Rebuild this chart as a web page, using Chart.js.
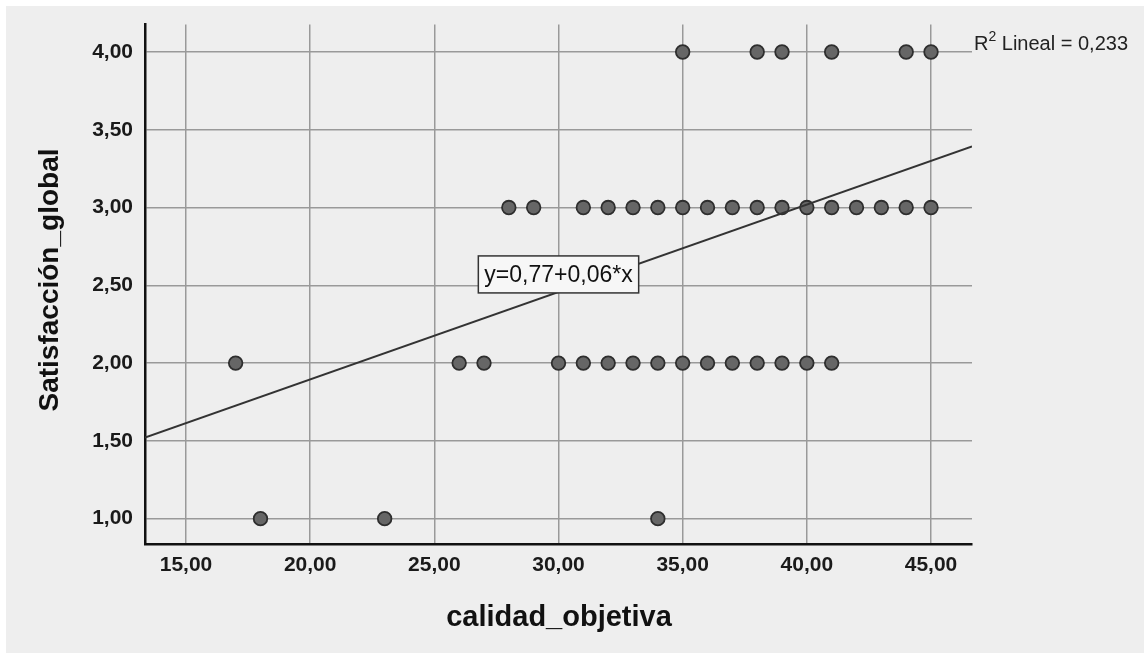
<!DOCTYPE html>
<html>
<head>
<meta charset="utf-8">
<script src="https://cdn.jsdelivr.net/npm/chart.js@4.4.1/dist/chart.umd.min.js"></script>
<style>
  body { margin: 0; background: #ffffff; }
  canvas { display: block; }
</style>
</head>
<body>
<canvas id="scatter" width="1144" height="653"></canvas>
<script>
// calidad_objetiva values observed at each level of Satisfacción_global
const calidadSat4 = [35, 38, 39, 41, 44, 45];
const calidadSat3 = [28, 29, 31, 32, 33, 34, 35, 36, 37, 38, 39, 40, 41, 42, 43, 44, 45];
const calidadSat2 = [17, 26, 27, 30, 31, 32, 33, 34, 35, 36, 37, 38, 39, 40, 41];
const calidadSat1 = [18, 23, 34];

const xTicks = [15, 20, 25, 30, 35, 40, 45];
const yTicks = [1, 1.5, 2, 2.5, 3, 3.5, 4];

// fitted line (SPSS shows y=0,77+0,06*x, R2 lineal = 0,233)
const intercept = 0.771;
const slope = 0.0562;
const r2 = 0.233;

const xMin = 13.35, xMax = 46.65;
const yMin = 0.837, yMax = 4.176;

const toPoints = (xs, y) => xs.map(x => ({ x: x, y: y }));
const points = [].concat(
    toPoints(calidadSat4, 4),
    toPoints(calidadSat3, 3),
    toPoints(calidadSat2, 2),
    toPoints(calidadSat1, 1)
);
const fitLine = [xMin, xMax].map(x => ({ x: x, y: intercept + slope * x }));

const fmt = v => v.toFixed(2).replace('.', ',');
const FONT = '"Liberation Sans", Arial, sans-serif';

const decorations = {
    id: 'decorations',
    beforeDraw(chart) {
        const c = chart.ctx;
        c.save();
        c.fillStyle = '#ffffff';
        c.fillRect(0, 0, chart.width, chart.height);
        c.fillStyle = '#eeeeee';
        c.fillRect(6, 6, chart.width - 6, chart.height - 6);
        c.restore();
    },
    afterDraw(chart) {
        const c = chart.ctx;
        const xs = chart.scales.x, ys = chart.scales.y;
        const area = chart.chartArea;
        c.save();

        // axis titles
        c.fillStyle = '#111';
        c.font = 'bold 29px ' + FONT;
        c.textAlign = 'center';
        c.textBaseline = 'middle';
        c.fillText('calidad_objetiva', 559, 618);
        c.font = 'bold 28px ' + FONT;
        c.save();
        c.translate(50, 280);
        c.rotate(-Math.PI / 2);
        c.fillText('Satisfacción_global', 0, 0);
        c.restore();

        // R2 label at end of the top gridline
        const yTop = ys.getPixelForValue(4);
        c.textAlign = 'left';
        c.textBaseline = 'alphabetic';
        c.fillStyle = '#222';
        c.font = '20px ' + FONT;
        const rx = area.right + 2;
        c.fillText('R', rx, yTop - 2);
        const rw = c.measureText('R').width;
        c.font = '14px ' + FONT;
        c.fillText('2', rx + rw, yTop - 11);
        const sw = c.measureText('2').width;
        c.font = '20px ' + FONT;
        c.fillText(' Lineal = ' + r2.toFixed(3).replace('.', ','), rx + rw + sw, yTop - 2);

        // equation box
        const ex = xs.getPixelForValue(30), ey = ys.getPixelForValue(2.57);
        const eq = 'y=' + fmt(0.77) + '+' + fmt(0.06) + '*x';
        c.font = '23px ' + FONT;
        const ew = c.measureText(eq).width + 12;
        const eh = 37;
        c.fillStyle = '#f7f7f7';
        c.fillRect(ex - ew / 2, ey - eh / 2, ew, eh);
        c.strokeStyle = '#333';
        c.lineWidth = 1.5;
        c.strokeRect(ex - ew / 2, ey - eh / 2, ew, eh);
        c.fillStyle = '#111';
        c.textAlign = 'center';
        c.textBaseline = 'middle';
        c.fillText(eq, ex, ey + 1);
        c.restore();
    }
};

new Chart(document.getElementById('scatter').getContext('2d'), {
    type: 'scatter',
    data: {
        datasets: [{
            type: 'line',
            label: 'Lineal',
            data: fitLine,
            borderColor: '#333333',
            borderWidth: 1.8,
            pointRadius: 0,
            fill: false,
            order: 0
        }, {
            label: 'Satisfacción_global',
            data: points,
            backgroundColor: '#666666',
            borderColor: '#2e2e2e',
            borderWidth: 1.8,
            pointRadius: 6.8,
            order: 1
        }]
    },
    options: {
        responsive: false,
        animation: false,
        layout: { padding: { left: 0, top: 12, right: 172, bottom: 0 } },
        plugins: {
            legend: { display: false },
            tooltip: { enabled: false }
        },
        scales: {
            x: {
                type: 'linear',
                min: xMin,
                max: xMax,
                afterBuildTicks: s => { s.ticks = xTicks.map(v => ({ value: v })); },
                afterFit: s => { s.height = 109; },
                grid: { color: '#999999', lineWidth: 1.5, drawTicks: false },
                border: { color: '#111', width: 2.5 },
                ticks: {
                    padding: 9,
                    color: '#1a1a1a',
                    font: { family: FONT, size: 21, weight: 'bold' },
                    callback: v => fmt(v)
                }
            },
            y: {
                type: 'linear',
                min: yMin,
                max: yMax,
                afterBuildTicks: s => { s.ticks = yTicks.map(v => ({ value: v })); },
                afterFit: s => { s.width = 145; },
                grid: { color: '#999999', lineWidth: 1.5, drawTicks: false },
                border: { color: '#111', width: 2.5 },
                ticks: {
                    padding: 12,
                    color: '#1a1a1a',
                    font: { family: FONT, size: 21, weight: 'bold' },
                    callback: v => fmt(v)
                }
            }
        }
    },
    plugins: [decorations]
});
</script>
</body>
</html>
